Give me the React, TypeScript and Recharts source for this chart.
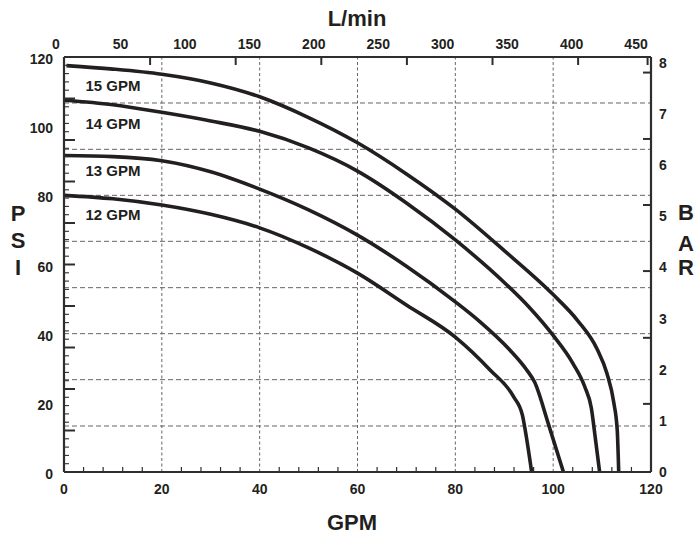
import React from "react";
import { ComposedChart, Line, Scatter, XAxis, YAxis, ReferenceLine, ReferenceDot } from "recharts";

const FONT = '"Liberation Sans", Arial, Helvetica, sans-serif';
const INK = "#231f20";
const AXIS = "#2e2e2e";
const GRID = "#666666";

// pump curves: flow (GPM) vs pressure (PSI)
const gpm15 = [0.5, 10, 20, 30, 40, 50, 60, 70, 80, 90, 100, 105, 109, 111, 112.4, 113.1, 113.4];
const psi15 = [117.5, 116.5, 115, 112.5, 108.5, 102.5, 95.2, 86.2, 76, 64, 51.3, 43.8, 35.5, 28.5, 20, 12, 0];

const gpm14 = [0, 10, 20, 30, 40, 50, 60, 70, 80, 90, 95, 100, 104, 106.5, 107.8, 108.6, 109.5];
const psi14 = [107.5, 106.2, 104, 101.5, 98.5, 93.7, 87, 77.8, 67.1, 54.8, 47.8, 39.5, 31.5, 24.5, 18.5, 10, 0];

const gpm13 = [0, 10, 20, 30, 40, 50, 60, 70, 80, 85, 91, 94.6, 96.2, 99, 102.1];
const psi13 = [91.5, 91.2, 90, 86.8, 81.8, 75.8, 68.5, 59.5, 49.2, 43.5, 35.5, 29.5, 26, 14, 0];

const gpm12 = [0, 10, 20, 30, 40, 50, 60, 70, 80, 87.1, 91.9, 93.7, 94.3, 95.6];
const psi12 = [80, 79, 77.2, 74.5, 70.6, 64.8, 57.5, 48.3, 39, 29.5, 21.8, 16.5, 12, 0];

const seriesNames = ["15 GPM", "14 GPM", "13 GPM", "12 GPM"];
// where each curve name sits (GPM, PSI)
const nameAtGpm = [10, 10, 10, 10];
const nameAtPsi = [111.6, 100.6, 87.1, 74.5];

// axes
const gpmTicks = [0, 20, 40, 60, 80, 100, 120];
const gpmMinor = [4, 8, 12, 16, 24, 28, 32, 36, 44, 48, 52, 56, 64, 68, 72, 76, 84, 88, 92, 96, 104, 108, 112, 116];
const gpmGrid = [20, 40, 60, 80, 100];
const lpmTicks = [0, 50, 100, 150, 200, 250, 300, 350, 400, 450];
const topMarksGpm = [17.6, 35.1, 52.6, 70.1, 87.6, 105.1, 119.3];
const psiTicks = [0, 20, 40, 60, 80, 100, 120];
const psiMinor = [
  2.4, 4.8, 7.2, 9.6, 12, 14.4, 16.8, 19.2, 21.6, 24, 26.4, 28.8, 31.2, 33.6, 36, 38.4, 40.8, 43.2, 45.6, 48,
  50.4, 52.8, 55.2, 57.6, 60, 62.4, 64.8, 67.2, 69.6, 72, 74.4, 76.8, 79.2, 81.6, 84, 86.4, 88.8, 91.2, 93.6, 96,
  98.4, 100.8, 103.2, 105.6, 108, 110.4, 112.8, 115.2, 117.6,
];
const psiMajor = [12, 24, 36, 48, 60, 72, 84, 96, 108];
const psiGrid = [13.3, 26.7, 40, 53.3, 66.7, 80, 93.3, 106.7];
const barTicks = [0, 1, 2, 3, 4, 5, 6, 7, 8];
const barMarksPsi = [19.7, 38.8, 58.1, 77.2, 96.3, 115.5];

const toPoints = (g: number[], p: number[]) => g.map((x, i) => ({ gpm: x, psi: p[i] }));
const curves = [toPoints(gpm15, psi15), toPoints(gpm14, psi14), toPoints(gpm13, psi13), toPoints(gpm12, psi12)];
// marks hanging from the top border sit on the 120 PSI edge
const topMarks = topMarksGpm.map((g) => ({ gpm: g, psi: 120 }));

const label = { fontSize: 14, fontWeight: "bold" as const, fontFamily: FONT, fill: INK };

// axis sizes are 1px (recharts skips 0-sized axes); small offsets below undo the stacking
const GpmTick = (p: any) => {
  const v = p.payload.value;
  if (gpmTicks.includes(v)) {
    return (
      <text x={p.x} y={p.y + 22} textAnchor="middle" {...label}>
        {v}
      </text>
    );
  }
  return <line x1={p.x} x2={p.x} y1={p.y} y2={p.y - 5} stroke={AXIS} strokeWidth={1.2} />;
};

const LpmTick = (p: any) => (
  <text x={p.x - 8} y={p.y - 8} textAnchor="middle" {...label}>
    {p.payload.value}
  </text>
);

const PsiTick = (p: any) => (
  <text x={p.x - 11} y={p.y + 7} textAnchor="end" {...label}>
    {p.payload.value}
  </text>
);

const PsiMinorTick = (p: any) => {
  const major = psiMajor.includes(p.payload.value);
  return (
    <line x1={p.x + 1} x2={p.x + 1 + (major ? 11 : 5)} y1={p.y} y2={p.y} stroke={AXIS} strokeWidth={major ? 2 : 1.1} />
  );
};

const BarTick = (p: any) => (
  <text x={p.x + 8} y={p.y + 5} textAnchor="start" {...label}>
    {p.payload.value}
  </text>
);

const BarMark = (p: any) => <line x1={p.x - 1} x2={p.x - 9} y1={p.y} y2={p.y} stroke={AXIS} strokeWidth={2} />;

const TopMark = (p: any) => <line x1={p.cx} x2={p.cx} y1={p.cy} y2={p.cy + 8} stroke={AXIS} strokeWidth={2} />;

const title = { fontSize: 22, fontWeight: "bold" as const, fontFamily: FONT, fill: INK, textAnchor: "middle" as const };

const axisCommon = {
  interval: 0 as const,
  tickSize: 0,
  tickMargin: 0,
  tickLine: false,
  allowDataOverflow: true,
};

export default function App() {
  return (
    <div style={{ position: "absolute", left: 0, top: 0, width: 697, height: 537, background: "#fff" }}>
      {/* chart-level data only so that the top (L/min) axis, which carries no series, gets laid out */}
      <ComposedChart width={697} height={537} data={curves[0]} margin={{ top: 56, right: 44, bottom: 64, left: 62 }}>
        <XAxis
          {...axisCommon}
          xAxisId="gpm"
          type="number"
          dataKey="gpm"
          domain={[0, 120]}
          ticks={[...gpmTicks, ...gpmMinor]}
          height={1}
          tick={GpmTick}
          axisLine={{ stroke: AXIS, strokeWidth: 2.2 }}
        />
        <XAxis
          {...axisCommon}
          xAxisId="lpm"
          orientation="top"
          type="number"
          dataKey="gpm"
          domain={[0, 455.4]}
          ticks={lpmTicks}
          height={1}
          tick={LpmTick}
          axisLine={{ stroke: AXIS, strokeWidth: 2.2 }}
        />
        <YAxis
          {...axisCommon}
          yAxisId="psi"
          type="number"
          dataKey="psi"
          domain={[0, 120]}
          ticks={psiTicks}
          width={1}
          tick={PsiTick}
          axisLine={{ stroke: AXIS, strokeWidth: 2.2 }}
        />
        <YAxis
          {...axisCommon}
          yAxisId="psiMinor"
          type="number"
          domain={[0, 120]}
          ticks={psiMinor}
          width={1}
          tick={PsiMinorTick}
          axisLine={false}
        />
        <YAxis
          {...axisCommon}
          yAxisId="bar"
          orientation="right"
          type="number"
          domain={[0, 8.117]}
          ticks={barTicks}
          width={1}
          tick={BarTick}
          axisLine={{ stroke: AXIS, strokeWidth: 2.2 }}
        />
        <YAxis
          {...axisCommon}
          yAxisId="barMarks"
          orientation="right"
          type="number"
          domain={[0, 120]}
          ticks={barMarksPsi}
          width={1}
          tick={BarMark}
          axisLine={false}
        />

        {gpmGrid.map((v) => (
          <ReferenceLine key={"gx" + v} x={v} xAxisId="gpm" yAxisId="psi" stroke={GRID} strokeWidth={1} strokeDasharray="3 2.5" />
        ))}
        {psiGrid.map((v) => (
          <ReferenceLine key={"gy" + v} y={v} xAxisId="gpm" yAxisId="psi" stroke={GRID} strokeWidth={1} strokeDasharray="5 3" />
        ))}

        <Scatter
          name="top marks"
          data={topMarks}
          dataKey="psi"
          xAxisId="gpm"
          yAxisId="psi"
          shape={TopMark}
          legendType="none"
          isAnimationActive={false}
        />

        {curves.map((pts, i) => (
          <Line
            key={seriesNames[i]}
            name={seriesNames[i]}
            data={pts}
            dataKey="psi"
            xAxisId="gpm"
            yAxisId="psi"
            type="monotone"
            stroke={INK}
            strokeWidth={3.6}
            dot={false}
            activeDot={false}
            isAnimationActive={false}
          />
        ))}

        {seriesNames.map((n, i) => (
          <ReferenceDot
            key={"lbl" + n}
            x={nameAtGpm[i]}
            y={nameAtPsi[i]}
            xAxisId="gpm"
            yAxisId="psi"
            r={0}
            stroke="none"
            fill="none"
            label={{ value: n, position: "center", fill: INK, fontSize: 15, fontWeight: "bold", fontFamily: FONT }}
          />
        ))}
      </ComposedChart>

      <svg width={697} height={537} style={{ position: "absolute", left: 0, top: 0, pointerEvents: "none" }}>
        <text x={357} y={26} {...title}>L/min</text>
        <text x={352} y={530} {...title}>GPM</text>
        <text x={18} y={221} {...title}>P</text>
        <text x={18} y={248} {...title}>S</text>
        <text x={18} y={275} {...title}>I</text>
        <text x={686} y={220} {...title}>B</text>
        <text x={686} y={251} {...title}>A</text>
        <text x={686} y={275} {...title}>R</text>
      </svg>
    </div>
  );
}
